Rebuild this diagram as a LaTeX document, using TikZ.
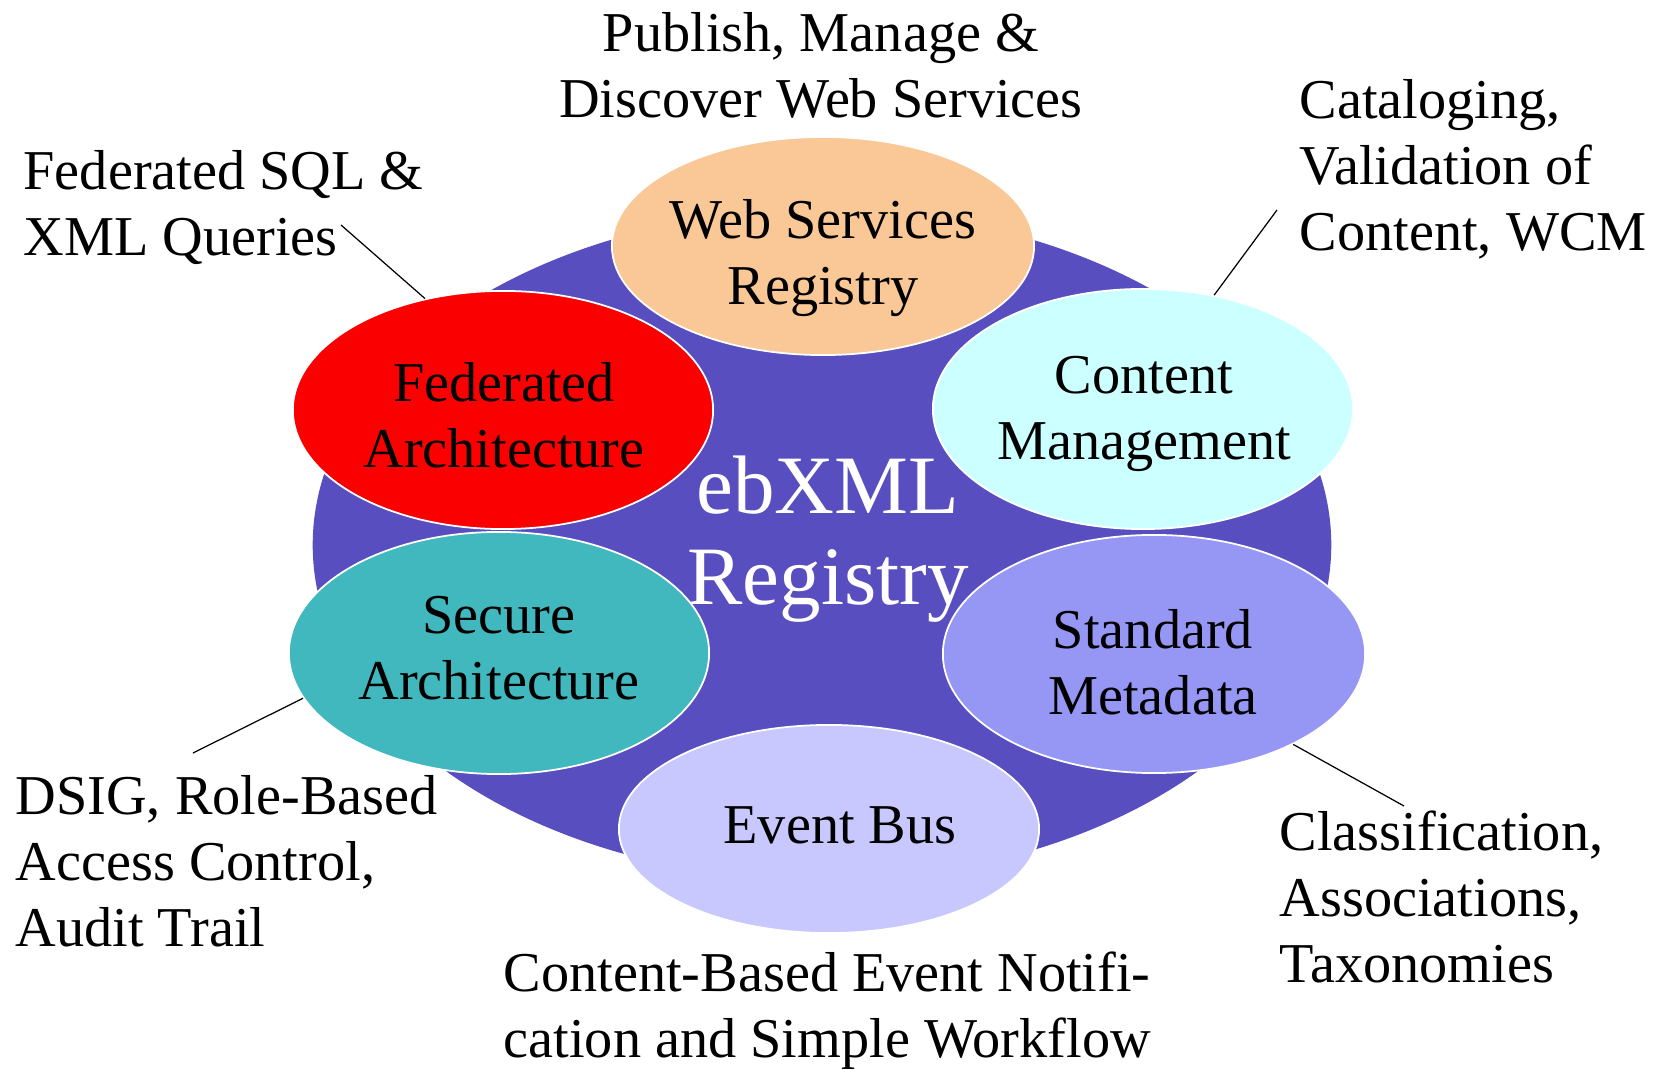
\documentclass[tikz,border=0pt]{standalone}
\usepackage{fontspec}
\setmainfont{Liberation Serif}
\usetikzlibrary{shapes.geometric}
\definecolor{regblue}{RGB}{89,78,191}
\definecolor{fedred}{RGB}{250,0,0}
\definecolor{wspeach}{RGB}{250,200,150}
\definecolor{cmcyan}{RGB}{204,255,255}
\definecolor{secteal}{RGB}{64,184,190}
\definecolor{stdblue}{RGB}{150,150,245}
\definecolor{evlav}{RGB}{200,200,255}
\tikzset{
  petal/.style={ellipse, draw=white, line width=0.5pt, inner sep=0pt,
    minimum width=4.2cm, minimum height=2.3cm},
  petaltext/.style={align=center, inner sep=0pt,
    font=\fontsize{16}{18.8}\selectfont},
  note/.style={align=left, anchor=north west, inner sep=0pt,
    font=\fontsize{16}{18.8}\selectfont},
  callout/.style={draw=black, line width=0.35pt}
}
\begin{document}
\begin{tikzpicture}[x=0.01cm,y=-0.01cm]
\useasboundingbox[fill=white] (0,0) rectangle (1662,1070);
% central registry ellipse
\node[ellipse, fill=regblue, minimum width=10.18cm, minimum height=6.7cm, inner sep=0pt] (reg) at (822,545) {};
% petals
\node[petal, fill=wspeach, minimum width=4.22cm, minimum height=2.18cm] (ws) at (823,246) {};
\node[petaltext] (wstext) at (823,258) {Web Services\\Registry};
\node[petal, fill=fedred, minimum height=2.38cm] (fed) at (503,410) {};
\node[petaltext] (fedtext) at (504,415) {Federated\\Architecture};
\node[petal, fill=cmcyan, minimum height=2.4cm] (cm) at (1143,409) {};
\node[petaltext] (cmtext) at (1144,414) {Content\\Management};
\node[petal, fill=secteal, minimum height=2.42cm] (sec) at (499,653) {};
\node[petaltext] (sectext) at (499,648) {Secure\\Architecture};
\node[petal, fill=stdblue, minimum width=4.22cm, minimum height=2.38cm] (std) at (1154,654) {};
\node[petaltext] (stdtext) at (1153,662) {Standard\\Metadata};
\node[petal, fill=evlav, minimum height=2.08cm] (ev) at (829,829) {};
\node[petaltext] (evtext) at (840,825) {Event Bus};
% central title
\node[align=center, text=white, inner sep=0pt, font=\fontsize{23.6}{26}\selectfont] (title) at (828,539) {ebXML\\Registry};
% outer notes
\node[align=center, inner sep=0pt, font=\fontsize{16}{18.8}\selectfont] (pub) at (821,65) {Publish, Manage \&\\Discover Web Services};
\node[note] (fsql) at (23,150) {Federated SQL \&\\XML Queries};
\node[note] (cat) at (1299,79) {Cataloging,\\Validation of\\Content, WCM};
\node[note] (dsig) at (15,775) {DSIG, Role-Based\\Access Control,\\Audit Trail};
\node[note] (cls) at (1279,810) {Classification,\\Associations,\\Taxonomies};
\node[note] (cbe) at (503,951) {Content-Based Event Notifi-\\cation and Simple Workflow};
% callout lines
\coordinate (fsqlend) at (341,225);
\coordinate (catend) at (1277,210);
\coordinate (dsigend) at (193,753);
\coordinate (clsend) at (1404,806);
\draw[callout] (fed.125) -- (fsqlend);
\draw[callout] (cm.58) -- (catend);
\draw[callout] (sec.193) -- (dsigend);
\draw[callout] (std.327) -- (clsend);
\end{tikzpicture}
\end{document}
